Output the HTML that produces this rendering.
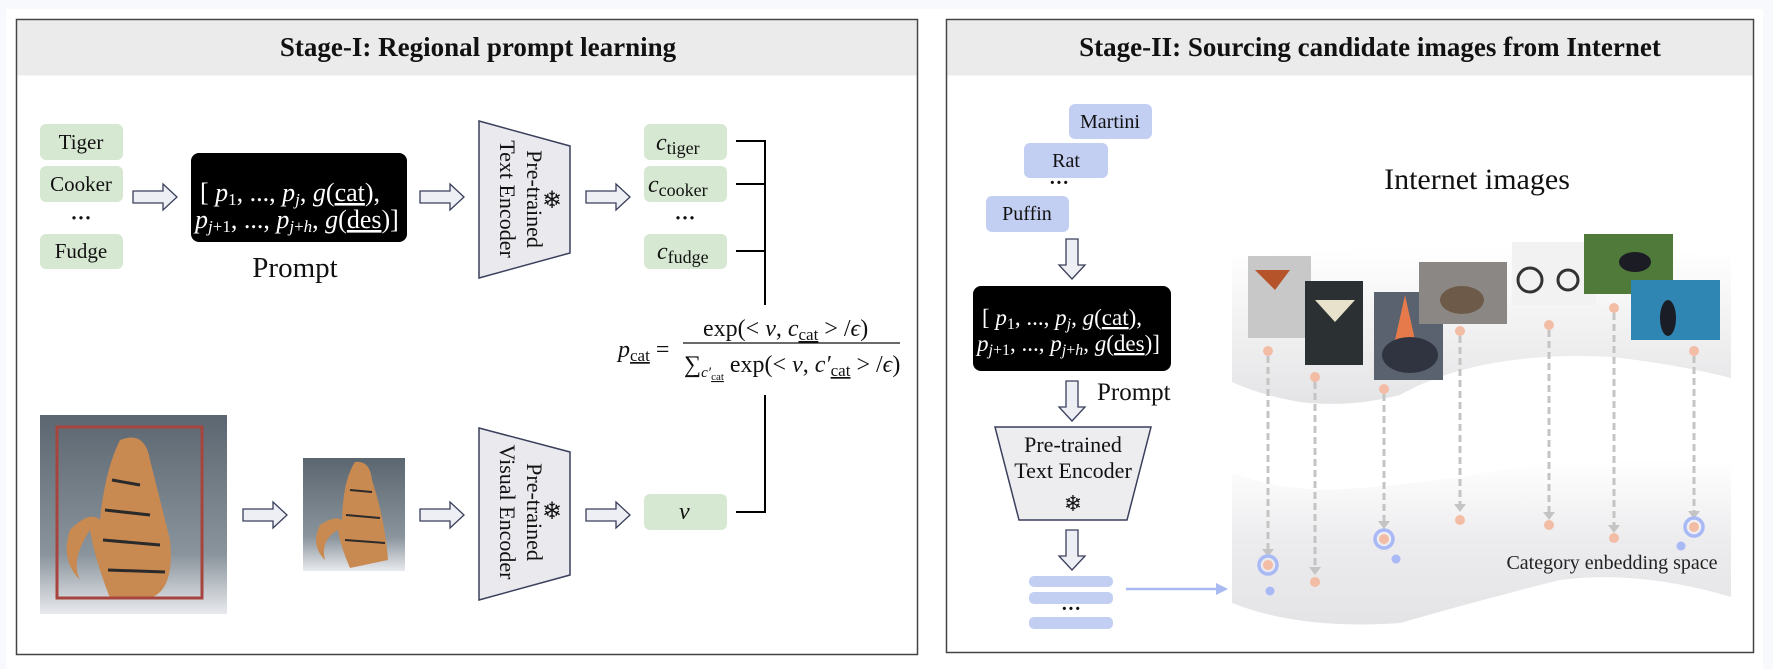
<!DOCTYPE html>
<html><head><meta charset="utf-8"><style>
html,body{margin:0;padding:0;background:#f8f9fc;}
svg{display:block;}
text{font-family:"Liberation Serif",serif;}
</style></head><body>
<svg width="1773" height="669" viewBox="0 0 1773 669" xmlns="http://www.w3.org/2000/svg">
<defs>
<linearGradient id="g1" x1="0" y1="0" x2="0" y2="1"><stop offset="0" stop-color="#ffffff"/><stop offset="1" stop-color="#e4e4e6"/></linearGradient>
<linearGradient id="g2" x1="0" y1="0" x2="0" y2="1"><stop offset="0" stop-color="#ffffff"/><stop offset="0.5" stop-color="#ececee"/><stop offset="1" stop-color="#e4e4e6"/></linearGradient>
<linearGradient id="tg" x1="0" y1="0" x2="0" y2="1"><stop offset="0" stop-color="#5b6670"/><stop offset="0.7" stop-color="#8a949c"/><stop offset="1" stop-color="#e8eaee"/></linearGradient>
<g id="harr"><path d="M0,-6 H30 V-13 L44,0 L30,13 V6 H0 Z" fill="#eeeff4" stroke="#3a3f5c" stroke-width="1.3"/></g>
<g id="varr"><path d="M-6,0 V26 H-13 L0,40 L13,26 H6 V0 Z" fill="#eeeff4" stroke="#3a3f5c" stroke-width="1.3"/></g>
</defs>
<rect x="6" y="9" width="1757" height="660" fill="#ffffff"/>
<!-- Left panel -->
<rect x="16.5" y="19.5" width="901" height="635" fill="#fff" stroke="#444" stroke-width="1.5"/>
<rect x="17.5" y="20.5" width="899" height="55" fill="#ebebeb"/>
<text x="478" y="56" font-size="27" font-weight="bold" text-anchor="middle" fill="#111">Stage-I: Regional prompt learning</text>
<g fill="#d6e8d1">
<rect x="40" y="124" width="83" height="36" rx="6"/><rect x="40" y="166" width="83" height="36" rx="6"/><rect x="40" y="234" width="83" height="35" rx="6"/>
<rect x="644" y="124" width="83" height="36" rx="6"/><rect x="644" y="166" width="83" height="36" rx="6"/><rect x="644" y="234" width="83" height="35" rx="6"/>
<rect x="644" y="494" width="83" height="36" rx="6"/>
</g>
<g font-size="21" fill="#111" text-anchor="middle">
<text x="81" y="149">Tiger</text><text x="81" y="191">Cooker</text><text x="81" y="225" font-weight="bold">···</text><text x="81" y="258">Fudge</text>
<text x="685" y="225" font-weight="bold">···</text>
</g>
<g font-size="24" fill="#111">
<text x="656" y="150"><tspan font-style="italic">c</tspan><tspan font-size="18" dy="4">tiger</tspan></text>
<text x="648" y="192"><tspan font-style="italic">c</tspan><tspan font-size="18" dy="4">cooker</tspan></text>
<text x="657" y="259"><tspan font-style="italic">c</tspan><tspan font-size="18" dy="4">fudge</tspan></text>
<text x="679" y="519" font-style="italic">v</text>
</g>
<use href="#harr" x="133" y="197"/><use href="#harr" x="420" y="197"/><use href="#harr" x="586" y="197"/>
<use href="#harr" x="243" y="515"/><use href="#harr" x="420" y="515"/><use href="#harr" x="586" y="515"/>
<rect x="191" y="153" width="216" height="89" rx="8" fill="#000"/>
<g fill="#fff" font-size="26">
<text x="200" y="201">[ <tspan font-style="italic">p</tspan><tspan font-size="17" dy="4">1</tspan><tspan dy="-4">,  ...,  </tspan><tspan font-style="italic">p</tspan><tspan font-size="17" dy="4" font-style="italic">j</tspan><tspan dy="-4">,  </tspan><tspan font-style="italic">g</tspan>(<tspan text-decoration="underline">cat</tspan>),</text>
<text x="195" y="228"><tspan font-style="italic">p</tspan><tspan font-size="17" dy="4"><tspan font-style="italic">j</tspan>+1</tspan><tspan dy="-4">, ..., </tspan><tspan font-style="italic">p</tspan><tspan font-size="17" dy="4"><tspan font-style="italic">j</tspan>+<tspan font-style="italic">h</tspan></tspan><tspan dy="-4">, </tspan><tspan font-style="italic">g</tspan>(<tspan text-decoration="underline">des</tspan>)]</text>
</g>
<text x="295" y="277" font-size="29" text-anchor="middle" fill="#111">Prompt</text>
<path d="M479,121 L570,146 L570,253 L479,278 Z" fill="#e9e9ee" stroke="#3a3f5c" stroke-width="1.5"/>
<text transform="translate(527,199) rotate(90)" font-size="22" text-anchor="middle" fill="#111">Pre-trained</text>
<text transform="translate(500,199) rotate(90)" font-size="22" text-anchor="middle" fill="#111">Text Encoder</text>
<text x="552" y="208" font-size="24" text-anchor="middle" fill="#111" font-family="DejaVu Sans">❄</text>
<path d="M479,428 L570,452 L570,575 L479,600 Z" fill="#e9e9ee" stroke="#3a3f5c" stroke-width="1.5"/>
<text transform="translate(527,512) rotate(90)" font-size="22" text-anchor="middle" fill="#111">Pre-trained</text>
<text transform="translate(500,512) rotate(90)" font-size="22" text-anchor="middle" fill="#111">Visual Encoder</text>
<text x="552" y="519" font-size="24" text-anchor="middle" fill="#111" font-family="DejaVu Sans">❄</text>
<g stroke="#000" stroke-width="2" fill="none">
<path d="M736,141 H765 M736,184 H765 M736,251 H765 M765,140 V305"/>
<path d="M765,395 V512 H736"/>
</g>
<g fill="#111" font-size="24">
<text x="618" y="357"><tspan font-style="italic">p</tspan><tspan font-size="17" dy="4" text-decoration="underline">cat</tspan><tspan dy="-4"> =</tspan></text>
<line x1="683" y1="343" x2="900" y2="343" stroke="#111" stroke-width="1.2"/>
<text x="703" y="336">exp(&lt; <tspan font-style="italic">v</tspan>, <tspan font-style="italic">c</tspan><tspan font-size="17" dy="4" text-decoration="underline">cat</tspan><tspan dy="-4"> &gt; /</tspan><tspan font-style="italic">ϵ</tspan>)</text>
<text x="684" y="372">∑<tspan font-size="15" dy="5" font-style="italic">c′</tspan><tspan font-size="11" dy="3" text-decoration="underline">cat</tspan><tspan dy="-8"> exp(&lt; </tspan><tspan font-style="italic">v</tspan>, <tspan font-style="italic">c′</tspan><tspan font-size="17" dy="4" text-decoration="underline">cat</tspan><tspan dy="-4"> &gt; /</tspan><tspan font-style="italic">ϵ</tspan>)</text>
</g>
<rect x="40" y="415" width="187" height="199" fill="url(#tg)"/>
<path d="M120,440 Q145,430 150,460 Q160,500 170,540 Q175,590 150,598 L110,598 Q95,560 90,530 Q70,560 80,580 Q60,560 70,530 Q90,510 100,520 Q105,470 120,440Z" fill="#c98a52"/>
<g stroke="#2a2a2a" stroke-width="3"><path d="M112,480 L140,485 M105,510 L150,515 M103,540 L160,545 M108,570 L165,572"/></g>
<rect x="57" y="427" width="145" height="171" fill="none" stroke="#a8443e" stroke-width="3"/>
<rect x="303" y="458" width="102" height="113" fill="url(#tg)"/>
<path d="M355,462 Q370,460 372,480 Q385,520 388,560 L350,568 Q340,545 338,530 Q320,540 325,560 Q310,545 320,525 Q335,515 342,520 Q343,480 355,462Z" fill="#c98a52"/>
<g stroke="#2a2a2a" stroke-width="2"><path d="M350,490 L372,492 M346,515 L380,518 M345,540 L385,543"/></g>
<!-- Right panel -->
<rect x="946.5" y="19.5" width="807" height="633" fill="#fff" stroke="#444" stroke-width="1.5"/>
<rect x="947.5" y="20.5" width="805" height="55" fill="#ebebeb"/>
<text x="1370" y="56" font-size="27" font-weight="bold" text-anchor="middle" fill="#111">Stage-II: Sourcing candidate images from Internet</text>
<g fill="#c3cff2">
<rect x="1069" y="104" width="83" height="35" rx="6"/><rect x="1024" y="143" width="84" height="35" rx="6"/><rect x="986" y="196" width="83" height="36" rx="6"/>
<rect x="1029" y="576" width="84" height="11" rx="5"/><rect x="1029" y="592" width="84" height="12" rx="5"/><rect x="1029" y="617" width="84" height="12" rx="5"/>
</g>
<g font-size="20" fill="#111" text-anchor="middle">
<text x="1110" y="128">Martini</text><text x="1066" y="167">Rat</text><text x="1059" y="189" font-weight="bold">···</text><text x="1027" y="220">Puffin</text>
<text x="1071" y="615" font-weight="bold">···</text>
</g>
<use href="#varr" x="1072" y="239"/><use href="#varr" x="1072" y="381"/><use href="#varr" x="1072" y="530"/>
<rect x="973" y="286" width="198" height="85" rx="8" fill="#000"/>
<g fill="#fff" font-size="23">
<text x="982" y="325">[ <tspan font-style="italic">p</tspan><tspan font-size="16" dy="4">1</tspan><tspan dy="-4">,  ...,  </tspan><tspan font-style="italic">p</tspan><tspan font-size="16" dy="4" font-style="italic">j</tspan><tspan dy="-4">,  </tspan><tspan font-style="italic">g</tspan>(<tspan text-decoration="underline">cat</tspan>),</text>
<text x="977" y="351"><tspan font-style="italic">p</tspan><tspan font-size="16" dy="4"><tspan font-style="italic">j</tspan>+1</tspan><tspan dy="-4">, ..., </tspan><tspan font-style="italic">p</tspan><tspan font-size="16" dy="4"><tspan font-style="italic">j</tspan>+<tspan font-style="italic">h</tspan></tspan><tspan dy="-4">, </tspan><tspan font-style="italic">g</tspan>(<tspan text-decoration="underline">des</tspan>)]</text>
</g>
<text x="1097" y="400" font-size="25" fill="#111">Prompt</text>
<path d="M995,427 L1151,427 L1127,520 L1019,520 Z" fill="#ededf0" stroke="#3a3f5c" stroke-width="1.5"/>
<text x="1073" y="452" font-size="22" text-anchor="middle" fill="#111">Pre-trained</text>
<text x="1073" y="478" font-size="22" text-anchor="middle" fill="#111">Text Encoder</text>
<text x="1073" y="511" font-size="22" text-anchor="middle" fill="#111" font-family="DejaVu Sans">❄</text>
<path d="M1126,589 H1218" stroke="#a9b9f2" stroke-width="2.5"/>
<path d="M1216,583 L1228,589 L1216,595 Z" fill="#a9b9f2"/>
<text x="1477" y="189" font-size="30" text-anchor="middle" fill="#111">Internet images</text>
<path d="M1232,256 Q1480,240 1731,256 L1731,378 Q1680,365 1613,357 Q1480,350 1400,395 Q1350,408 1300,402 Q1260,395 1232,382 Z" fill="url(#g1)"/>
<path d="M1232,473 Q1280,490 1330,490 Q1420,485 1500,470 Q1620,455 1731,463 L1731,597 Q1640,570 1560,580 Q1480,600 1400,623 Q1300,630 1232,603 Z" fill="url(#g2)"/>
<rect x="1248" y="256" width="63" height="82" fill="#c8c8c8"/><path d="M1255,270 L1290,270 L1275,290 Z" fill="#b5542a"/>
<rect x="1305" y="281" width="58" height="84" fill="#2b3133"/><path d="M1315,300 L1355,300 L1335,322 Z" fill="#e8e2cc"/>
<rect x="1374" y="292" width="69" height="88" fill="#5a6270"/><path d="M1405,295 L1415,340 L1395,340Z" fill="#e77a4a"/><ellipse cx="1410" cy="355" rx="28" ry="18" fill="#2f3440"/>
<rect x="1419" y="262" width="88" height="62" fill="#8a8784"/><ellipse cx="1462" cy="300" rx="22" ry="14" fill="#6e5a48"/>
<rect x="1512" y="242" width="84" height="63" fill="#f2f2f2"/><circle cx="1530" cy="280" r="12" fill="none" stroke="#333" stroke-width="3"/><circle cx="1568" cy="280" r="10" fill="none" stroke="#333" stroke-width="3"/>
<rect x="1584" y="234" width="89" height="60" fill="#4f7a3a"/><ellipse cx="1635" cy="262" rx="16" ry="10" fill="#1c1c24"/>
<rect x="1631" y="280" width="89" height="60" fill="#2f86b3"/><ellipse cx="1668" cy="318" rx="8" ry="18" fill="#1a1d26"/>
<g stroke="#c4c4c4" stroke-width="3" stroke-dasharray="7,4" fill="none">
<path d="M1268,356 V551"/><path d="M1315,382 V569"/><path d="M1384,394 V523"/><path d="M1460,336 V506"/><path d="M1549,330 V514"/><path d="M1614,313 V527"/><path d="M1694,356 V513"/>
</g>
<g fill="#c4c4c4">
<path d="M1262,549 L1274,549 L1268,557Z"/><path d="M1309,567 L1321,567 L1315,575Z"/><path d="M1378,521 L1390,521 L1384,529Z"/><path d="M1454,504 L1466,504 L1460,512Z"/><path d="M1543,512 L1555,512 L1549,520Z"/><path d="M1608,525 L1620,525 L1614,533Z"/><path d="M1688,511 L1700,511 L1694,519Z"/>
</g>
<g fill="#f2bca5">
<circle cx="1268" cy="351" r="5"/><circle cx="1315" cy="377" r="5"/><circle cx="1384" cy="389" r="5"/><circle cx="1460" cy="331" r="5"/><circle cx="1549" cy="325" r="5"/><circle cx="1614" cy="308" r="5"/><circle cx="1694" cy="351" r="5"/>
<circle cx="1268" cy="565" r="5"/><circle cx="1315" cy="582" r="5"/><circle cx="1384" cy="539" r="5"/><circle cx="1460" cy="520" r="5"/><circle cx="1549" cy="525" r="5"/><circle cx="1614" cy="538" r="5"/><circle cx="1694" cy="527" r="5"/>
</g>
<g fill="none" stroke="#a9b9f5" stroke-width="3.5">
<circle cx="1268" cy="565" r="9"/><circle cx="1384" cy="539" r="9"/><circle cx="1694" cy="527" r="9"/>
</g>
<g fill="#a9b9f5"><circle cx="1270" cy="591" r="4.5"/><circle cx="1396" cy="559" r="4.5"/><circle cx="1681" cy="546" r="4.5"/></g>
<text x="1612" y="569" font-size="20" text-anchor="middle" fill="#222">Category enbedding space</text>
</svg>
</body></html>
